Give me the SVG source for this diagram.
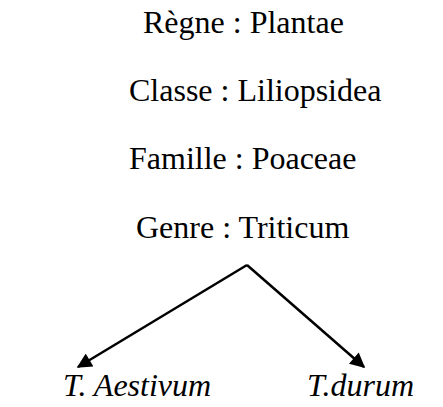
<svg xmlns="http://www.w3.org/2000/svg" width="443" height="407" viewBox="0 0 443 407">
<defs>
<style>
.t{font-family:"Liberation Serif","Times New Roman",serif;font-size:32px;fill:#000}
.i{font-style:italic}
.c{stroke:#000;stroke-width:2.5;fill:none}
</style>
<marker id="ah" viewBox="0 0 10 10" refX="9" refY="5" markerWidth="6.5" markerHeight="6" markerUnits="strokeWidth" orient="auto"><path d="M0,0 L10,5 L0,10 z" fill="#000"/></marker>
</defs>
<rect width="443" height="407" fill="#fff"/>
<g id="regne"><text class="t" x="143" y="33">Règne : Plantae</text></g>
<g id="classe"><text class="t" x="129" y="101">Classe : Liliopsidea</text></g>
<g id="famille"><text class="t" x="129" y="169">Famille : Poaceae</text></g>
<g id="genre"><text class="t" x="136" y="238">Genre : Triticum</text></g>
<g id="aestivum"><text class="t i" x="63" y="396">T. Aestivum</text></g>
<g id="durum"><text class="t i" x="307" y="396">T.durum</text></g>
<g id="connectors">
<path class="c" d="M247,265 L78,367" marker-end="url(#ah)"/>
<path class="c" d="M247,265 L364,367" marker-end="url(#ah)"/>
</g>
</svg>
